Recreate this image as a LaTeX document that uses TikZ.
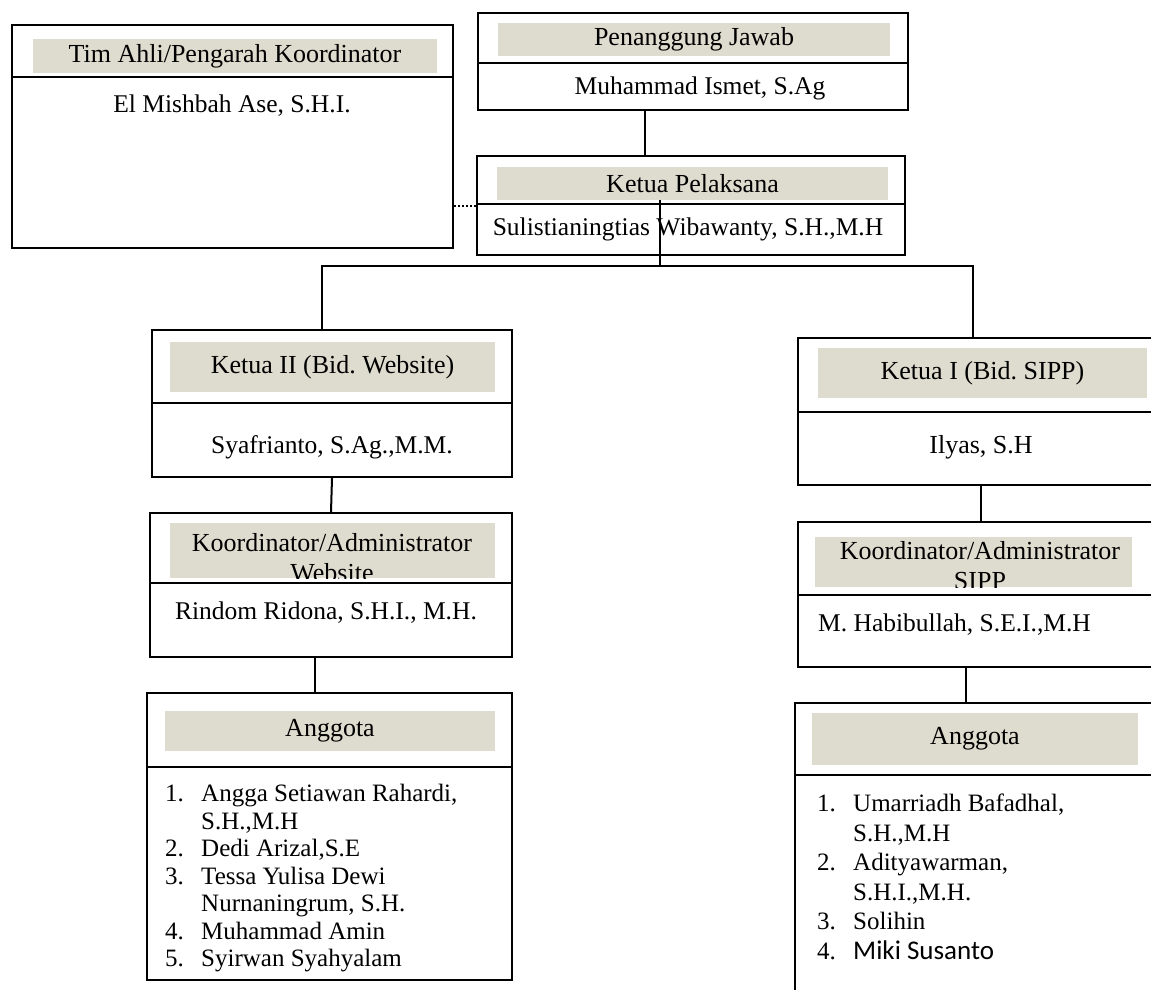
\documentclass[tikz,border=0pt]{standalone}
\usepackage{fontspec}
\setmainfont{Liberation Serif}
\newfontfamily\calfont{Carlito}
\usetikzlibrary{calc}
\definecolor{bandcol}{RGB}{222,220,206}
\newcommand{\lnum}[1]{\makebox[36pt][l]{#1}}
\frenchspacing

\begin{document}
\begin{tikzpicture}[x=1pt,y=-1pt,
   box/.style={draw,line width=2.4pt,inner sep=0pt},
   band/.style={fill=bandcol,inner sep=0pt,font=\fontsize{26}{30}\selectfont},
   ttl/.style={font=\fontsize{26}{30}\selectfont,inner sep=0pt},
   nm/.style={font=\fontsize{25.5}{29}\selectfont,inner sep=0pt},
   lst/.style={align=left,inner sep=0pt,anchor=north west},
   sep/.style={line width=2.4pt},
   conn/.style={line width=2pt}]
\useasboundingbox (0,0) rectangle (1151,989);
\begin{scope}
\clip (0,0) rectangle (1151,989);
   % top row
   \node[box,minimum width=441,minimum height=223] (ta) at (232.5,136.5) {};
   \node[band,minimum width=404,minimum height=34] (tat) at (235,56) {Tim Ahli/Pengarah Koordinator};
   \draw[sep] (ta.west |- 0,77) -- (ta.east |- 0,77);
   \node[nm] (tan) at (232,106) {El Mishbah Ase, S.H.I.};

   \node[box,minimum width=430,minimum height=97] (pj) at (693,61.5) {};
   \node[band,minimum width=392,minimum height=33] (pjt) at (694,39) {Penanggung Jawab};
   \draw[sep] (pj.west |- 0,63) -- (pj.east |- 0,63);
   \node[nm] (pjn) at (700,88) {Muhammad Ismet, S.Ag};

   \node[box,minimum width=428,minimum height=99] (kp) at (691,205.5) {};
   \node[band,minimum width=391,minimum height=33] (kpt) at (692.5,183.5) {Ketua Pelaksana};
   \draw[sep] (kp.west |- 0,204) -- (kp.east |- 0,204);
   \node[nm] (kpn) at (688,229) {Sulistianingtias Wibawanty, S.H.,M.H};

   % left column
   \node[box,minimum width=360,minimum height=147] (k2) at (332,403.5) {};
   \node[band,minimum width=325,minimum height=50] (k2t) at (332.5,367) {Ketua II (Bid. Website)};
   \draw[sep] (k2.west |- 0,403) -- (k2.east |- 0,403);
   \node[nm] (k2n) at (332,447) {Syafrianto, S.Ag.,M.M.};

   \node[box,minimum width=362,minimum height=144] (kw) at (331,585) {};
   \node[band,minimum width=325,minimum height=55] (kwb) at (332.5,550.5) {};
   \begin{scope}
   \clip (kwb.north west) rectangle (kwb.south east);
   \node[ttl,align=center] (kwt) at (332,558) {Koordinator/Administrator\\Website};
   \end{scope}
   \draw[sep] (kw.west |- 0,583) -- (kw.east |- 0,583);
   \node[nm] (kwn) at (326,613) {Rindom Ridona, S.H.I., M.H.};

   \node[box,minimum width=365,minimum height=287] (al) at (329.5,836.5) {};
   \node[band,minimum width=330,minimum height=40] (alt) at (330,731) {Anggota};
   \draw[sep] (al.west |- 0,767) -- (al.east |- 0,767);
   \node[lst,font=\fontsize{25}{27.5}\selectfont] (all) at (165,784)
      {\lnum{1.}Angga Setiawan Rahardi,\\\hspace*{36pt}S.H.,M.H\\
       \lnum{2.}Dedi Arizal,S.E\\\lnum{3.}Tessa Yulisa Dewi\\
       \hspace*{36pt}Nurnaningrum, S.H.\\\lnum{4.}Muhammad Amin\\
       \lnum{5.}Syirwan Syahyalam};

   % right column
   \node[box,minimum width=365,minimum height=147] (k1) at (980.5,411.5) {};
   \node[band,minimum width=329,minimum height=50] (k1t) at (982.5,373) {Ketua I (Bid. SIPP)};
   \draw[sep] (k1.west |- 0,412) -- (k1.east |- 0,412);
   \node[nm,font=\fontsize{26}{30}\selectfont] (k1n) at (981,447) {Ilyas, S.H};

   \node[box,minimum width=365,minimum height=145] (ks) at (980.5,594.5) {};
   \node[band,minimum width=317,minimum height=50] (ksb) at (973.5,562) {};
   \begin{scope}
   \clip (ksb.north west) rectangle (ksb.south east);
   \node[ttl,align=center] (kst) at (980,566) {Koordinator/Administrator\\SIPP};
   \end{scope}
   \draw[sep] (ks.west |- 0,595) -- (ks.east |- 0,595);
   \node[nm,anchor=west] (ksn) at (818,625) {M. Habibullah, S.E.I.,M.H};

   \node[box,minimum width=368,minimum height=307] (ar) at (979,856.5) {};
   \node[band,minimum width=326,minimum height=52] (art) at (975,739) {Anggota};
   \draw[sep] (ar.west |- 0,775) -- (ar.east |- 0,775);
   \node[lst,font=\fontsize{25}{29.5}\selectfont] (arl) at (817,794)
      {\lnum{1.}Umarriadh Bafadhal,\\\hspace*{36pt}S.H.,M.H\\
       \lnum{2.}Adityawarman,\\\hspace*{36pt}S.H.I.,M.H.\\
       \lnum{3.}Solihin\\\lnum{4.}{\calfont\fontsize{27}{29.5}\selectfont Miki Susanto}};

   % connectors
   \coordinate (bus) at (660,266);
   \draw[conn] ([xshift=-48]pj.south) -- ([xshift=-48]pj.south |- kp.north);
   \draw[conn,dotted] (kp.west) -- (kp.west -| ta.east);
   \draw[conn] (kpt.south -| bus) -- (bus);
   \draw[conn] ([xshift=-10]k2.north) |- (bus) -| ([xshift=-8]k1.north);
   \draw[conn] (k2.south) -- (kw.north);
   \draw[conn] ([xshift=-16]kw.south) -- ([xshift=-16]kw.south |- al.north);
   \draw[conn] (k1.south) -- (ks.north);
   \draw[conn] ([xshift=-15]ks.south) -- ([xshift=-15]ks.south |- ar.north);
\end{scope}
\end{tikzpicture}
\end{document}
